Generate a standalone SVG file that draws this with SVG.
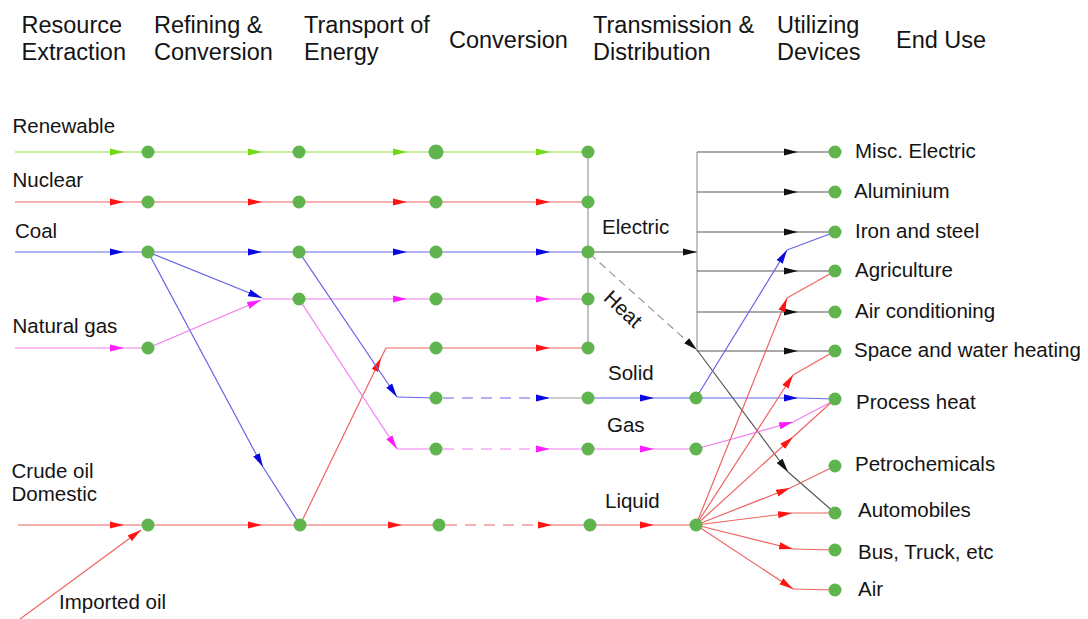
<svg xmlns="http://www.w3.org/2000/svg" width="1088" height="619" viewBox="0 0 1088 619">
  <defs>
    <style>
      .hd{font-family:"Liberation Sans",Arial,sans-serif;font-size:23.5px;fill:#141414}
      .lb{font-family:"Liberation Sans",Arial,sans-serif;font-size:20.5px;fill:#141414}
      .dot{fill:#60b44e}
      path{fill:none;stroke-width:1.2}
      .g{stroke:#8fdc40}
      .r{stroke:#f06262}
      .b{stroke:#6464e6}
      .m{stroke:#f07cf0}
      .k{stroke:#555}
      .gy{stroke:#9a9a9a}
      .dash{stroke-dasharray:11 8}
      .hdash{stroke-dasharray:8 5}
      .g.a{marker-mid:url(#ag)}
      .r.a{marker-mid:url(#ar)}
      .b.a{marker-mid:url(#ab)}
      .m.a{marker-mid:url(#am)}
      .k.a{marker-mid:url(#ak)}
      .g.e{marker-end:url(#ag)}
      .r.e{marker-end:url(#ar)}
      .b.e{marker-end:url(#ab)}
      .m.e{marker-end:url(#am)}
      .k.e,.gy.e{marker-end:url(#ak)}
    </style>
    <marker id="ag" markerUnits="userSpaceOnUse" viewBox="0 0 14 8" markerWidth="14" markerHeight="8" refX="14" refY="4" orient="auto"><path d="M0,0.4 L14,4 L0,7.6 z" style="fill:#74d812;stroke:none"/></marker>
    <marker id="ar" markerUnits="userSpaceOnUse" viewBox="0 0 14 8" markerWidth="14" markerHeight="8" refX="14" refY="4" orient="auto"><path d="M0,0.4 L14,4 L0,7.6 z" style="fill:#ff1414;stroke:none"/></marker>
    <marker id="ab" markerUnits="userSpaceOnUse" viewBox="0 0 14 8" markerWidth="14" markerHeight="8" refX="14" refY="4" orient="auto"><path d="M0,0.4 L14,4 L0,7.6 z" style="fill:#0808e0;stroke:none"/></marker>
    <marker id="am" markerUnits="userSpaceOnUse" viewBox="0 0 14 8" markerWidth="14" markerHeight="8" refX="14" refY="4" orient="auto"><path d="M0,0.4 L14,4 L0,7.6 z" style="fill:#ff1cff;stroke:none"/></marker>
    <marker id="ak" markerUnits="userSpaceOnUse" viewBox="0 0 14 8" markerWidth="14" markerHeight="8" refX="14" refY="4" orient="auto"><path d="M0,0.4 L14,4 L0,7.6 z" style="fill:#111;stroke:none"/></marker>
  </defs>

  <rect width="1088" height="619" fill="#fff"/>

  <!-- column headings -->
  <g id="headings">
    <text class="hd" x="21.5" y="33">Resource</text>
    <text class="hd" x="21.5" y="59.5">Extraction</text>
    <text class="hd" x="154" y="33">Refining &amp;</text>
    <text class="hd" x="154" y="59.5">Conversion</text>
    <text class="hd" x="304" y="33">Transport of</text>
    <text class="hd" x="304" y="59.5">Energy</text>
    <text class="hd" x="449" y="48">Conversion</text>
    <text class="hd" x="593" y="33">Transmission &amp;</text>
    <text class="hd" x="593" y="59.5">Distribution</text>
    <text class="hd" x="777" y="33">Utilizing</text>
    <text class="hd" x="777" y="59.5">Devices</text>
    <text class="hd" x="896" y="48">End Use</text>
  </g>

  <!-- flows -->
  <g id="connectors">
    <!-- renewable -->
    <path class="g a" d="M15,152 L124,152 L148,152"/>
    <path class="g a" d="M148,152 L262,152 L299,152"/>
    <path class="g a" d="M299,152 L407,152 L436,152"/>
    <path class="g a" d="M436,152 L550,152 L588,152"/>
    <!-- nuclear -->
    <path class="r a" d="M15,202 L124,202 L148,202"/>
    <path class="r a" d="M148,202 L262,202 L299,202"/>
    <path class="r a" d="M299,202 L407,202 L436,202"/>
    <path class="r a" d="M436,202 L550,202 L588,202"/>
    <!-- coal -->
    <path class="b a" d="M15,252 L124,252 L148,252"/>
    <path class="b a" d="M148,252 L262,252 L299,252"/>
    <path class="b a" d="M299,252 L407,252 L436,252"/>
    <path class="b a" d="M436,252 L550,252 L588,252"/>
    <path class="b e" d="M148,252 L262,298"/>
    <path class="b e" d="M148,252 L263,467"/>
    <path class="b" d="M263,467 L300,525"/>
    <!-- natural gas -->
    <path class="m a" d="M15,348 L124,348 L148,348"/>
    <path class="m e" d="M148,348 L261,300"/>
    <path class="m" d="M262,299 L299,299"/>
    <path class="m a" d="M299,299 L407,299 L436,299"/>
    <path class="m a" d="M436,299 L550,299 L588,299"/>
    <!-- crude oil -->
    <path class="r a" d="M18,525 L124,525 L148,525"/>
    <path class="r e" d="M16,622 L141,530"/>
    <path class="r a" d="M148,525 L262,525 L300,525"/>
    <path class="r e" d="M300,525 L381,358"/>
    <path class="r" d="M381,358 L386,348 L436,348"/>
    <path class="r a" d="M436,348 L550,348 L588,348"/>
    <!-- power station bus -->
    <path class="gy" d="M588,152 V348"/>
    <path class="k e" d="M588,252 L697,252"/>
    <path class="gy e hdash" d="M590,254 L697,350"/>
    <!-- solid -->
    <path class="b e" d="M299,252 L397,397"/>
    <path class="b" d="M397,397 L436,398"/>
    <path class="b e dash" d="M443,398 L550,398"/>
    <path class="gy" d="M550,398 L588,398"/>
    <path class="b a" d="M588,398 L654,398 L696,398"/>
    <!-- gas -->
    <path class="m e" d="M299,299 L397,449"/>
    <path class="m" d="M397,449 L436,449"/>
    <path class="m e dash" d="M443,449 L550,449"/>
    <path class="m" d="M550,449 L588,449"/>
    <path class="m a" d="M588,449 L654,449 L696,449"/>
    <!-- liquid -->
    <path class="r a" d="M300,525 L402,525 L439,525"/>
    <path class="r e dash" d="M446,525 L552,525"/>
    <path class="r" d="M552,525 L590,525"/>
    <path class="r a" d="M590,525 L654,525 L696,525"/>
    <!-- electric distribution -->
    <path class="gy" d="M697,152 V351"/>
    <path class="k a" d="M697,152 L798,152 L835,152"/>
    <path class="k a" d="M697,192 L798,192 L835,192"/>
    <path class="k a" d="M697,232 L798,232 L835,232"/>
    <path class="k a" d="M697,271 L798,271 L835,271"/>
    <path class="k a" d="M697,312 L798,312 L835,312"/>
    <path class="k a" d="M697,351 L798,351 L835,351"/>
    <!-- heat -->
    <path class="k e" d="M697,350 L788,472"/>
    <path class="k" d="M788,472 L835,513"/>
    <!-- solid to end uses -->
    <path class="b e" d="M696,398 L787,250"/>
    <path class="b" d="M787,250 L835,232"/>
    <path class="b a" d="M696,398 L798,398 L835,399"/>
    <!-- gas to end uses -->
    <path class="m e" d="M696,449 L793,422"/>
    <path class="m" d="M793,422 L835,400"/>
    <!-- liquid to end uses -->
    <path class="r e" d="M696,525 L787,298"/>
    <path class="r" d="M787,298 L835,271"/>
    <path class="r e" d="M696,525 L793,375"/>
    <path class="r" d="M793,375 L835,351"/>
    <path class="r e" d="M696,525 L793,437"/>
    <path class="r" d="M793,437 L835,399"/>
    <path class="r e" d="M696,525 L790,488"/>
    <path class="r" d="M790,488 L835,466"/>
    <path class="r e" d="M696,525 L792,513"/>
    <path class="r" d="M792,513 L835,513"/>
    <path class="r e" d="M696,525 L793,549"/>
    <path class="r" d="M793,549 L835,550"/>
    <path class="r e" d="M696,525 L793,589"/>
    <path class="r" d="M793,589 L835,590"/>
  </g>

  <!-- resources -->
  <g id="src-renewable"><text class="lb" x="12.5" y="133">Renewable</text></g>
  <g id="src-nuclear"><text class="lb" x="12.5" y="187">Nuclear</text></g>
  <g id="src-coal"><text class="lb" x="15" y="238">Coal</text></g>
  <g id="src-natural-gas"><text class="lb" x="12.5" y="333">Natural gas</text></g>
  <g id="src-crude-oil"><text class="lb" x="11.5" y="478">Crude oil</text><text class="lb" x="11.5" y="501">Domestic</text></g>
  <g id="src-imported-oil"><text class="lb" x="59" y="609">Imported oil</text></g>

  <!-- refining and conversion -->
  <g id="ref-renewable"><circle class="dot" cx="148" cy="152" r="6.5"/></g>
  <g id="ref-nuclear"><circle class="dot" cx="148" cy="202" r="6.5"/></g>
  <g id="ref-coal"><circle class="dot" cx="148" cy="252" r="6.5"/></g>
  <g id="ref-gas"><circle class="dot" cx="148" cy="348" r="6.5"/></g>
  <g id="ref-oil"><circle class="dot" cx="148" cy="525" r="6.5"/></g>

  <!-- transport of energy -->
  <g id="tr-renewable"><circle class="dot" cx="299" cy="152" r="6.5"/></g>
  <g id="tr-nuclear"><circle class="dot" cx="299" cy="202" r="6.5"/></g>
  <g id="tr-coal"><circle class="dot" cx="299" cy="252" r="6.5"/></g>
  <g id="tr-gas"><circle class="dot" cx="299" cy="299" r="6.5"/></g>
  <g id="tr-oil"><circle class="dot" cx="300" cy="525" r="6.5"/></g>

  <!-- conversion -->
  <g id="cv-renewable"><circle class="dot" cx="436" cy="152" r="7.5"/></g>
  <g id="cv-nuclear"><circle class="dot" cx="436" cy="202" r="6.5"/></g>
  <g id="cv-coal"><circle class="dot" cx="436" cy="252" r="6.5"/></g>
  <g id="cv-gas"><circle class="dot" cx="436" cy="299" r="6.5"/></g>
  <g id="cv-oil"><circle class="dot" cx="436" cy="348" r="6.5"/></g>
  <g id="cv-solid"><circle class="dot" cx="436" cy="398" r="6.5"/></g>
  <g id="cv-gasfuel"><circle class="dot" cx="436" cy="449" r="6.5"/></g>
  <g id="cv-liquid"><circle class="dot" cx="439" cy="525" r="6.5"/></g>

  <!-- transmission and distribution -->
  <g id="td-renewable"><circle class="dot" cx="588" cy="152" r="6.5"/></g>
  <g id="td-nuclear"><circle class="dot" cx="588" cy="202" r="6.5"/></g>
  <g id="td-electric"><circle class="dot" cx="588" cy="252" r="6.5"/><text class="lb" x="602" y="234">Electric</text></g>
  <g id="td-gas"><circle class="dot" cx="588" cy="299" r="6.5"/></g>
  <g id="td-oil"><circle class="dot" cx="588" cy="348" r="6.5"/></g>
  <g id="td-heat"><text class="lb" text-anchor="middle" transform="translate(623,309) rotate(43)" y="7">Heat</text></g>
  <g id="td-solid"><circle class="dot" cx="588" cy="398" r="6.5"/><text class="lb" x="608" y="380">Solid</text></g>
  <g id="td-gasfuel"><circle class="dot" cx="588" cy="449" r="6.5"/><text class="lb" x="607" y="432">Gas</text></g>
  <g id="td-liquid"><circle class="dot" cx="590" cy="525" r="6.5"/><text class="lb" x="605" y="508">Liquid</text></g>

  <!-- utilizing devices -->
  <g id="ud-solid"><circle class="dot" cx="696" cy="398" r="6.5"/></g>
  <g id="ud-gas"><circle class="dot" cx="696" cy="449" r="6.5"/></g>
  <g id="ud-liquid"><circle class="dot" cx="696" cy="525" r="6.5"/></g>

  <!-- end uses -->
  <g id="eu-misc"><circle class="dot" cx="835" cy="152" r="6.5"/><text class="lb" x="855" y="158">Misc. Electric</text></g>
  <g id="eu-aluminium"><circle class="dot" cx="835" cy="192" r="6.5"/><text class="lb" x="854" y="198">Aluminium</text></g>
  <g id="eu-iron"><circle class="dot" cx="835" cy="232" r="6.5"/><text class="lb" x="855" y="238">Iron and steel</text></g>
  <g id="eu-agriculture"><circle class="dot" cx="835" cy="271" r="6.5"/><text class="lb" x="855" y="277">Agriculture</text></g>
  <g id="eu-aircon"><circle class="dot" cx="835" cy="312" r="6.5"/><text class="lb" x="855" y="318">Air conditioning</text></g>
  <g id="eu-space"><circle class="dot" cx="835" cy="351" r="6.5"/><text class="lb" x="854" y="357">Space and water heating</text></g>
  <g id="eu-process"><circle class="dot" cx="835" cy="399" r="6.5"/><text class="lb" x="856" y="409">Process heat</text></g>
  <g id="eu-petro"><circle class="dot" cx="835" cy="466" r="6.5"/><text class="lb" x="855" y="471">Petrochemicals</text></g>
  <g id="eu-auto"><circle class="dot" cx="835" cy="513" r="6.5"/><text class="lb" x="858" y="517">Automobiles</text></g>
  <g id="eu-bus"><circle class="dot" cx="835" cy="550" r="6.5"/><text class="lb" x="858" y="559">Bus, Truck, etc</text></g>
  <g id="eu-air"><circle class="dot" cx="835" cy="590" r="6.5"/><text class="lb" x="858" y="596">Air</text></g>
</svg>
